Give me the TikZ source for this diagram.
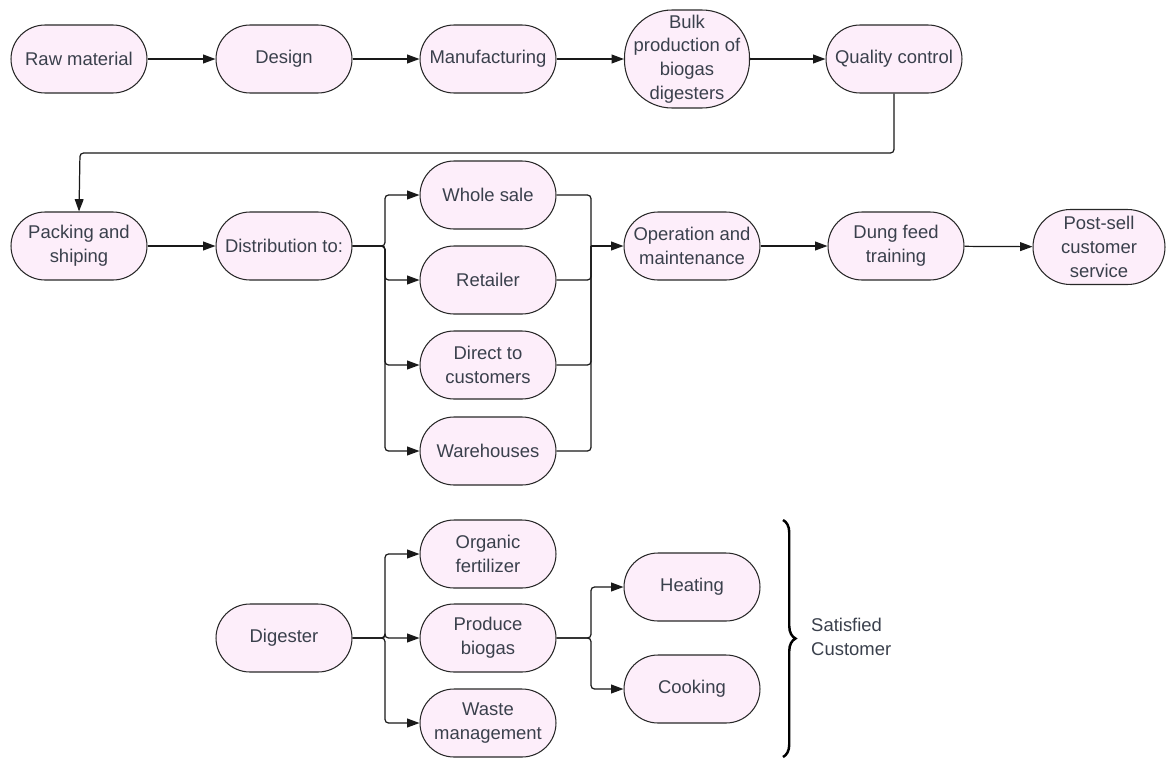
\documentclass[tikz,border=0pt]{standalone}
\usepackage{fontspec}
\setmainfont{Liberation Sans}
\usetikzlibrary{arrows.meta}
\usetikzlibrary{decorations.pathreplacing}
\definecolor{boxfill}{RGB}{253,238,250}
\definecolor{boxline}{RGB}{40,40,40}
\definecolor{boxtext}{RGB}{58,64,76}
\def\stagew{2.72cm}
\def\stageh{1.36cm}

\tikzset{
  stage/.style={draw=boxline, fill=boxfill, text=boxtext, line width=0.6pt,
    rounded corners=0.68cm, minimum width=\stagew, minimum height=\stageh,
    align=center, inner sep=1pt, font=\fontsize{10.5}{13.5}\selectfont},
  flow/.style={-{Triangle[length=7pt,width=5pt]}, line width=0.7pt, draw=black!90, rounded corners=2pt},
  link/.style={line width=0.7pt, draw=black!90, rounded corners=2pt}
}

\begin{document}
\begin{tikzpicture}[x=0.02cm, y=-0.02cm]
  \useasboundingbox (0,0) rectangle (1167,758);

  \node[stage] (raw)    at (79,59)  {Raw material};
  \node[stage] (design) at (284,59) {Design};
  \node[stage] (manuf)  at (488,59) {Manufacturing};
  \node[stage, minimum width=2.5cm, minimum height=1.96cm, rounded corners=0.95cm] (bulk) at (687,59)
    {Bulk\\production of\\biogas\\digesters};
  \node[stage] (qc)     at (894,59) {Quality control};

  \node[stage] (pack)   at (79,246)  {Packing and\\shiping};
  \node[stage] (dist)   at (284,246) {Distribution to:};
  \node[stage] (whole)  at (488,195) {Whole sale};
  \node[stage] (retail) at (488,280) {Retailer};
  \node[stage] (direct) at (488,365) {Direct to\\customers};
  \node[stage] (ware)   at (488,451) {Warehouses};
  \node[stage] (oper)   at (692,246) {Operation and\\maintenance};
  \node[stage] (dung)   at (896,246) {Dung feed\\training};
  \node[stage, minimum width=2.64cm, minimum height=1.5cm, rounded corners=0.75cm] (post) at (1099,247)
    {Post-sell\\customer\\service};

  \node[stage] (dig)     at (284,638) {Digester};
  \node[stage] (organic) at (488,554) {Organic\\fertilizer};
  \node[stage] (biogas)  at (488,638) {Produce\\biogas};
  \node[stage] (waste)   at (488,723) {Waste\\management};
  \node[stage] (heat)    at (692,587) {Heating};
  \node[stage] (cook)    at (692,689) {Cooking};

  \coordinate (qcturn) at (80,153);
  \coordinate (split1) at (385,246);
  \coordinate (join1)  at (591,246);
  \coordinate (split2) at (385,638);
  \coordinate (split3) at (591,638);

  \draw[flow] (raw) -- (design);
  \draw[flow] (design) -- (manuf);
  \draw[flow] (manuf) -- (bulk);
  \draw[flow] (bulk) -- (qc);
  \draw[flow] (qc.south) |- (qcturn) -- (pack.north);
  \draw[flow] (pack) -- (dist);

  \foreach \n in {whole,retail,direct,ware}
    \draw[flow] (dist.east) -- (split1) |- (\n.west);
  \foreach \n in {whole,retail,direct,ware}
    \draw[link] (\n.east) -| (join1);
  \draw[flow] (join1) -- (oper.west);
  \draw[flow] (oper) -- (dung);
  \draw[flow] (dung) -- (post);

  \foreach \n in {organic,biogas,waste}
    \draw[flow] (dig.east) -- (split2) |- (\n.west);
  \foreach \n in {heat,cook}
    \draw[flow] (biogas.east) -- (split3) |- (\n.west);

  \draw[line width=1.4pt, decorate, decoration={brace, amplitude=0.25cm}] (783,520) -- (783,757);
  \node[anchor=west, align=left, text=boxtext, font=\fontsize{10.5}{13.5}\selectfont] (satis) at (805,637)
    {Satisfied\\Customer};
\end{tikzpicture}
\end{document}
